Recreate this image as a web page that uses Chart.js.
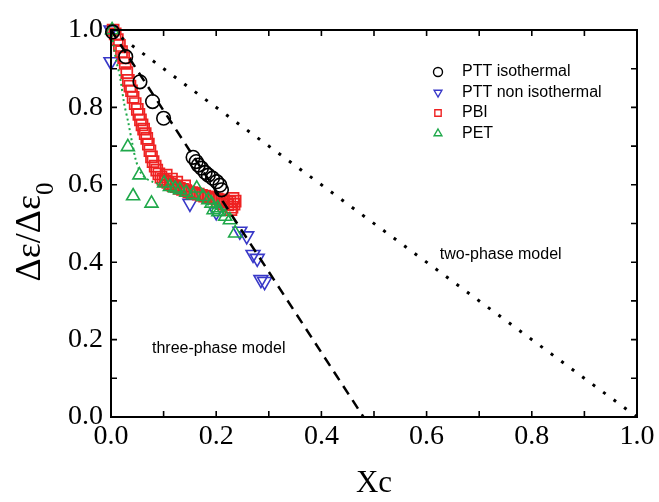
<!DOCTYPE html>
<html>
<head>
<meta charset="utf-8">
<script src="https://cdn.jsdelivr.net/npm/chart.js@4.4.1/dist/chart.umd.min.js"></script>
<style>
html,body{margin:0;padding:0;background:#fff;}
#c{display:block;}
</style>
</head>
<body>
<canvas id="c" width="659" height="502"></canvas>
<script>
// ---- data ----
const pttIsoX = [0.003, 0.028, 0.055, 0.079, 0.100, 0.156, 0.162, 0.166, 0.172, 0.179, 0.185, 0.193, 0.201, 0.207, 0.210];
const pttIsoY = [0.995, 0.931, 0.866, 0.815, 0.772, 0.671, 0.660, 0.651, 0.643, 0.632, 0.625, 0.617, 0.608, 0.599, 0.587];

const pttNonX = [0.000, 0.000, 0.150, 0.200, 0.245, 0.258, 0.270, 0.278, 0.285, 0.292];
const pttNonY = [1.000, 0.918, 0.552, 0.530, 0.480, 0.468, 0.420, 0.410, 0.355, 0.350];

const pbiX = [0.004,0.008,0.012,0.016,0.020,0.024,0.027,0.030,0.033,0.036,0.039,0.042,0.046,0.050,0.053,0.056,0.059,0.062,0.065,0.068,0.071,0.074,0.077,0.080,0.084,0.087,0.091,0.095,0.099,0.103,0.108,0.113,0.118,0.124,0.130,0.136,0.142,0.148,0.154,0.160,0.166,0.172,0.178,0.184,0.190,0.196,0.202,0.208,0.214,0.220,0.226,0.232,0.234,0.230,0.222,0.214,0.236,0.228,0.105,0.115,0.125,0.140];
const pbiY = [1.000,0.990,0.975,0.960,0.944,0.928,0.914,0.890,0.870,0.855,0.843,0.826,0.810,0.795,0.782,0.768,0.755,0.744,0.732,0.720,0.705,0.688,0.672,0.660,0.648,0.638,0.628,0.620,0.614,0.610,0.606,0.602,0.598,0.595,0.591,0.588,0.585,0.582,0.580,0.578,0.576,0.573,0.571,0.569,0.567,0.565,0.563,0.561,0.559,0.557,0.556,0.565,0.550,0.542,0.548,0.550,0.558,0.536,0.625,0.615,0.607,0.597];

const petX = [0.002, 0.032, 0.054, 0.042, 0.077, 0.101, 0.112, 0.122, 0.131, 0.143, 0.156, 0.163, 0.175, 0.185, 0.191, 0.195, 0.203, 0.204, 0.217, 0.226, 0.236];
const petY = [1.000, 0.698, 0.625, 0.571, 0.552, 0.604, 0.595, 0.591, 0.587, 0.580, 0.574, 0.591, 0.569, 0.561, 0.552, 0.535, 0.540, 0.530, 0.518, 0.509, 0.475];

const petFitX = [0.000, 0.005, 0.010, 0.017, 0.025, 0.033, 0.040, 0.047, 0.055, 0.065, 0.080, 0.100, 0.130, 0.160, 0.190, 0.215, 0.235];
const petFitY = [1.000, 0.960, 0.920, 0.880, 0.810, 0.760, 0.710, 0.665, 0.635, 0.618, 0.607, 0.598, 0.582, 0.565, 0.545, 0.527, 0.510];

const twoPhaseX = [0, 1];
const twoPhaseY = [1, 0];
const threePhaseX = [0, 0.48];
const threePhaseY = [1, 0];

const xTicks = [0, 0.2, 0.4, 0.6, 0.8, 1.0];
const yTicks = [0, 0.2, 0.4, 0.6, 0.8, 1.0];
const minorTicks = [0, 0.1, 0.2, 0.3, 0.4, 0.5, 0.6, 0.7, 0.8, 0.9, 1.0];

const legendLabels = ['PTT isothermal', 'PTT non isothermal', 'PBI', 'PET'];

const pts = (xs, ys) => xs.map((x, i) => ({x: x, y: ys[i]}));

const SERIF = '"Liberation Serif", "Times New Roman", serif';
const SANS = '"Liberation Sans", Arial, sans-serif';

const frame = {
  id: 'frame',
  afterDraw(chart) {
    const ctx = chart.ctx;
    const a = chart.chartArea;
    const xs = chart.scales.x, ys = chart.scales.y;
    ctx.save();
    ctx.strokeStyle = '#000';
    ctx.lineWidth = 2;
    ctx.strokeRect(a.left, a.top, a.right - a.left, a.bottom - a.top);
    ctx.lineWidth = 1.6;
    const tl = 6;
    minorTicks.forEach(v => {
      const px = xs.getPixelForValue(v);
      const py = ys.getPixelForValue(v);
      ctx.beginPath();
      ctx.moveTo(px, a.bottom); ctx.lineTo(px, a.bottom - tl);
      ctx.moveTo(px, a.top); ctx.lineTo(px, a.top + tl);
      ctx.moveTo(a.left, py); ctx.lineTo(a.left + tl, py);
      ctx.moveTo(a.right, py); ctx.lineTo(a.right - tl, py);
      ctx.stroke();
    });
    // y-axis title with subscript
    ctx.translate(31, 232);
    ctx.rotate(-Math.PI / 2);
    ctx.fillStyle = '#000';
    ctx.textBaseline = 'middle';
    ctx.font = '36px ' + SERIF;
    const main = 'Δε/Δε';
    const mw = ctx.measureText(main).width;
    ctx.font = '25px ' + SERIF;
    const sw = ctx.measureText('0').width;
    const start = -(mw + sw) / 2;
    ctx.font = '36px ' + SERIF;
    ctx.textAlign = 'left';
    ctx.fillText(main, start, 0);
    ctx.font = '25px ' + SERIF;
    ctx.fillText('0', start + mw, 15);
    ctx.restore();

    // annotations
    ctx.save();
    ctx.fillStyle = '#000';
    ctx.font = '16px ' + SANS;
    ctx.textBaseline = 'middle';
    ctx.textAlign = 'left';
    ctx.fillText('two-phase model', xs.getPixelForValue(0.625), ys.getPixelForValue(0.419));
    ctx.fillText('three-phase model', xs.getPixelForValue(0.078), ys.getPixelForValue(0.178));
    ctx.restore();

    // legend
    ctx.save();
    const ds = chart.data.datasets.slice(0, 4);
    ctx.font = '16px ' + SANS;
    ctx.textBaseline = 'middle';
    ctx.textAlign = 'left';
    ds.forEach((d, i) => {
      const y = 72 + i * 20.5;
      ctx.strokeStyle = d.borderColor;
      ctx.fillStyle = 'rgba(0,0,0,0)';
      ctx.lineWidth = 1.4;
      Chart.helpers.drawPoint(ctx, {pointStyle: d.pointStyle, rotation: d.rotation || 0, radius: 4.5, borderWidth: 1.4}, 438, y);
      ctx.fillStyle = '#000';
      ctx.fillText(legendLabels[i], 462, y);
    });
    ctx.restore();
  }
};

new Chart(document.getElementById('c'), {
  type: 'scatter',
  data: {
    datasets: [
      {label: legendLabels[0], data: pts(pttIsoX, pttIsoY), pointStyle: 'circle', pointRadius: 6.8, borderColor: '#000', backgroundColor: 'rgba(0,0,0,0)', borderWidth: 1.6, clip: false, order: 2},
      {label: legendLabels[1], data: pts(pttNonX, pttNonY), pointStyle: 'triangle', rotation: 180, pointRadius: 8, borderColor: '#3838c8', backgroundColor: 'rgba(0,0,0,0)', borderWidth: 1.6, clip: false, order: 5},
      {label: legendLabels[2], data: pts(pbiX, pbiY), pointStyle: 'rect', pointRadius: 7.8, borderColor: '#ee2222', backgroundColor: 'rgba(0,0,0,0)', borderWidth: 1.7, clip: false, order: 4},
      {label: legendLabels[3], data: pts(petX, petY), pointStyle: 'triangle', pointRadius: 7.5, borderColor: '#1fa84a', backgroundColor: 'rgba(0,0,0,0)', borderWidth: 1.6, clip: false, order: 3},
      {label: 'PET fit', data: pts(petFitX, petFitY), showLine: true, pointRadius: 0, borderColor: '#1fa84a', borderWidth: 2, borderDash: [2, 3], tension: 0.3, order: 3.5},
      {label: 'two-phase', data: pts(twoPhaseX, twoPhaseY), showLine: true, pointRadius: 0, borderColor: '#000', borderWidth: 3, borderDash: [3, 10], order: 1},
      {label: 'three-phase', data: pts(threePhaseX, threePhaseY), showLine: true, pointRadius: 0, borderColor: '#000', borderWidth: 2.5, borderDash: [10, 7], order: 1}
    ]
  },
  options: {
    responsive: false,
    animation: false,
    devicePixelRatio: 1,
    layout: {padding: {left: 0, right: 22, top: 30, bottom: 0}},
    plugins: {legend: {display: false}, tooltip: {enabled: false}},
    scales: {
      x: {
        type: 'linear', min: 0, max: 1,
        afterBuildTicks: s => { s.ticks = xTicks.map(v => ({value: v})); },
        ticks: {callback: v => v.toFixed(1), font: {family: SERIF, size: 28}, color: '#000', padding: 3, maxRotation: 0},
        grid: {display: false, drawTicks: false},
        border: {display: false},
        title: {display: true, text: 'Xc', font: {family: SERIF, size: 31}, color: '#000', padding: {top: 0, bottom: 0}},
        afterFit: s => { s.height = 85; }
      },
      y: {
        type: 'linear', min: 0, max: 1,
        afterBuildTicks: s => { s.ticks = yTicks.map(v => ({value: v})); },
        ticks: {callback: v => v.toFixed(1), font: {family: SERIF, size: 28}, color: '#000', padding: 8},
        grid: {display: false, drawTicks: false},
        border: {display: false},
        afterFit: s => { s.width = 111; }
      }
    }
  },
  plugins: [frame]
});
</script>
</body>
</html>
